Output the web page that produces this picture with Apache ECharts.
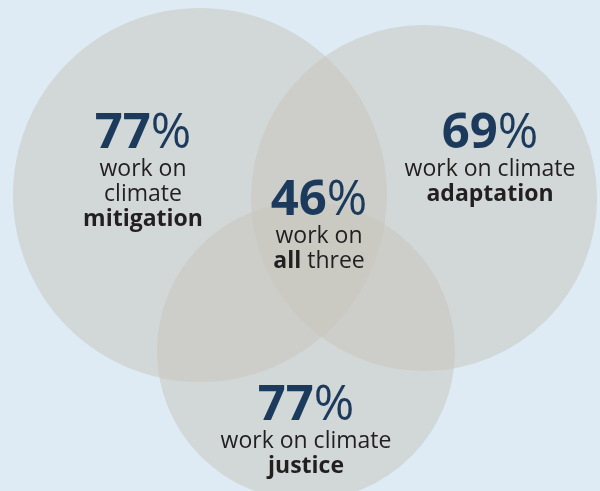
<!DOCTYPE html>
<html>
<head>
<meta charset="utf-8">
<style>
  html, body { margin: 0; padding: 0; background: #deebf5; }
  #chart { width: 600px; height: 491px; }
</style>
<script src="https://cdn.jsdelivr.net/npm/echarts@6/dist/echarts.min.js"></script>
</head>
<body>
<div id="chart"></div>
<script>
// Share of respondents working on each climate topic
const setNames = ['mitigation', 'adaptation', 'justice'];
const setShares = [77, 69, 77];
const allThreeShare = 46;

// Venn circle geometry, in the plot's own units (x: 0-600, y: 0-491 top-down)
const circleCenterX = [200, 424, 306];
const circleCenterY = [195, 198, 351];
const circleRadius = [187, 173, 149];

// Where each text block is anchored (top-centre)
const labelAnchorX = [143, 490, 306];
const labelAnchorY = [110, 110, 382];
const centerLabelAnchor = [319, 177];

const FONT = '"Open Sans", "DejaVu Sans", sans-serif';
const NAVY = '#1b3a5c';
const INK = '#231f20';

const richStyles = {
  num: { fontFamily: FONT, fontWeight: 'bold', fontSize: 49, fill: NAVY, lineHeight: 46 },
  pct: { fontFamily: FONT, fontWeight: 'normal', fontSize: 49, fill: NAVY, lineHeight: 46 },
  txt: { fontFamily: FONT, fontWeight: 'normal', fontSize: 23, fill: INK, lineHeight: 25 },
  b:   { fontFamily: FONT, fontWeight: 'bold', fontSize: 23, fill: INK, lineHeight: 25 }
};

// Body text under each percentage
const setBodies = [
  '{txt|work on}\n{txt|climate}\n{b|' + setNames[0] + '}',
  '{txt|work on climate}\n{b|' + setNames[1] + '}',
  '{txt|work on climate}\n{b|' + setNames[2] + '}'
];
const centerBody = '{txt|work on}\n{b|all}{txt| three}';

const circleData = setNames.map((n, i) => ({
  name: n,
  value: [circleCenterX[i], circleCenterY[i], circleRadius[i]]
}));

const labelData = setNames.map((n, i) => ({
  name: n,
  value: [labelAnchorX[i], labelAnchorY[i], setShares[i]],
  body: setBodies[i]
})).concat([{
  name: 'all',
  value: [centerLabelAnchor[0], centerLabelAnchor[1], allThreeShare],
  body: centerBody
}]);

const chart = echarts.init(document.getElementById('chart'), null, { renderer: 'canvas' });

chart.setOption({
  backgroundColor: '#deebf5',
  animation: false,
  grid: { left: 0, right: 0, top: 0, bottom: 0 },
  xAxis: { type: 'value', min: 0, max: 600, show: false },
  yAxis: { type: 'value', min: 0, max: 491, inverse: true, show: false },
  series: [
    {
      type: 'custom',
      coordinateSystem: 'cartesian2d',
      clip: false,
      silent: true,
      data: circleData,
      renderItem: function (params, api) {
        const c = api.coord([api.value(0), api.value(1)]);
        const r = api.size([api.value(2), 0])[0];
        return {
          type: 'circle',
          shape: { cx: c[0], cy: c[1], r: r },
          style: { fill: 'rgba(200,198,190,0.55)' }
        };
      }
    },
    {
      type: 'custom',
      coordinateSystem: 'cartesian2d',
      clip: false,
      silent: true,
      z: 5,
      data: labelData,
      renderItem: function (params, api) {
        const p = api.coord([api.value(0), api.value(1)]);
        const item = labelData[params.dataIndex];
        return {
          type: 'text',
          x: p[0],
          y: p[1] + 1,
          style: {
            text: '{num|' + api.value(2) + '}{pct|%}\n' + item.body,
            rich: richStyles,
            align: 'center',
            verticalAlign: 'top'
          }
        };
      }
    }
  ]
});
</script>
</body>
</html>
